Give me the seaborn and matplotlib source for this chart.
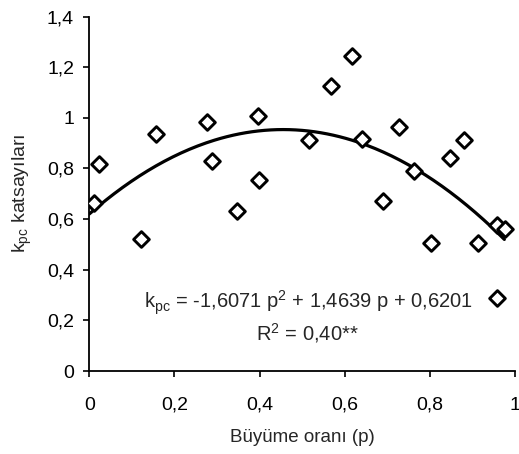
import numpy as np
import pandas as pd
import matplotlib
matplotlib.use("Agg")
import matplotlib.pyplot as plt
import seaborn as sns

# data
p_vals = [0.010, 0.023, 0.121, 0.157, 0.277, 0.288, 0.346, 0.397, 0.399, 0.515,
          0.568, 0.618, 0.641, 0.690, 0.728, 0.762, 0.802, 0.848, 0.881, 0.912,
          0.958, 0.977, 0.958]
k_vals = [0.664, 0.817, 0.523, 0.935, 0.985, 0.828, 0.632, 1.006, 0.753, 0.914,
          1.124, 1.243, 0.918, 0.672, 0.964, 0.790, 0.504, 0.843, 0.914, 0.504,
          0.576, 0.559, 0.287]
# trendline coefficients printed on the chart
coefs = [-1.6071, 1.4639, 0.6201]
fit_range = [0.0, 0.975]
x_ticks = [0, 0.2, 0.4, 0.6, 0.8, 1.0]
x_labels = ["0", "0,2", "0,4", "0,6", "0,8", "1"]
y_ticks = [0, 0.2, 0.4, 0.6, 0.8, 1.0, 1.2, 1.4]
y_labels = ["0", "0,2", "0,4", "0,6", "0,8", "1", "1,2", "1,4"]

sns.set_theme(style="ticks")
plt.rcParams['font.family'] = ['Liberation Sans', 'DejaVu Sans']
plt.rcParams['mathtext.fontset'] = 'custom'
plt.rcParams['mathtext.rm'] = 'Liberation Sans'
plt.rcParams['mathtext.it'] = 'Liberation Sans'

fig = plt.figure(figsize=(5.19, 4.54), dpi=100)
ax = fig.add_axes([89.3/519, 1-371/454, (515-89.3)/519, (371-16.5)/454])

df = pd.DataFrame({"p": p_vals, "k": k_vals})
sns.scatterplot(data=df, x="p", y="k", ax=ax, marker="D", s=64,
                facecolor="white", edgecolor="black", linewidth=2.1, zorder=3)

px = np.linspace(fit_range[0], fit_range[1], 200)
fit_df = pd.DataFrame({"p": px, "k": np.polyval(coefs, px)})
sns.lineplot(data=fit_df, x="p", y="k", ax=ax, color="black", linewidth=2.3, zorder=2)

ax.set_xlim(0, 1)
ax.set_ylim(0, 1.4)
ax.set_xticks(x_ticks)
ax.set_xticklabels(x_labels)
ax.set_yticks(y_ticks)
ax.set_yticklabels(y_labels)
ax.tick_params(axis='both', direction='out', length=4.5, width=1.2, colors='black',
               labelsize=14)
ax.tick_params(axis='x', pad=14)
ax.tick_params(axis='y', pad=6.5)
for s in ["top", "right"]:
    ax.spines[s].set_visible(False)
for s in ["left", "bottom"]:
    ax.spines[s].set_linewidth(1.3)
    ax.spines[s].set_color("black")

ax.set_xlabel("Büyüme oranı (p)", fontsize=13.5, labelpad=11)
ax.set_ylabel(r"k$_{\mathrm{pc}}$ katsayıları", fontsize=14, labelpad=9)

ax.text(0.516, 0.192, r"k$_{\mathrm{pc}}$ = -1,6071 p$^2$ + 1,4639 p + 0,6201",
        transform=ax.transAxes, ha="center", va="center", fontsize=14.5)
ax.text(0.513, 0.107, r"R$^2$ = 0,40**", transform=ax.transAxes,
        ha="center", va="center", fontsize=14.5)

fig.savefig("out.png", dpi=100)
